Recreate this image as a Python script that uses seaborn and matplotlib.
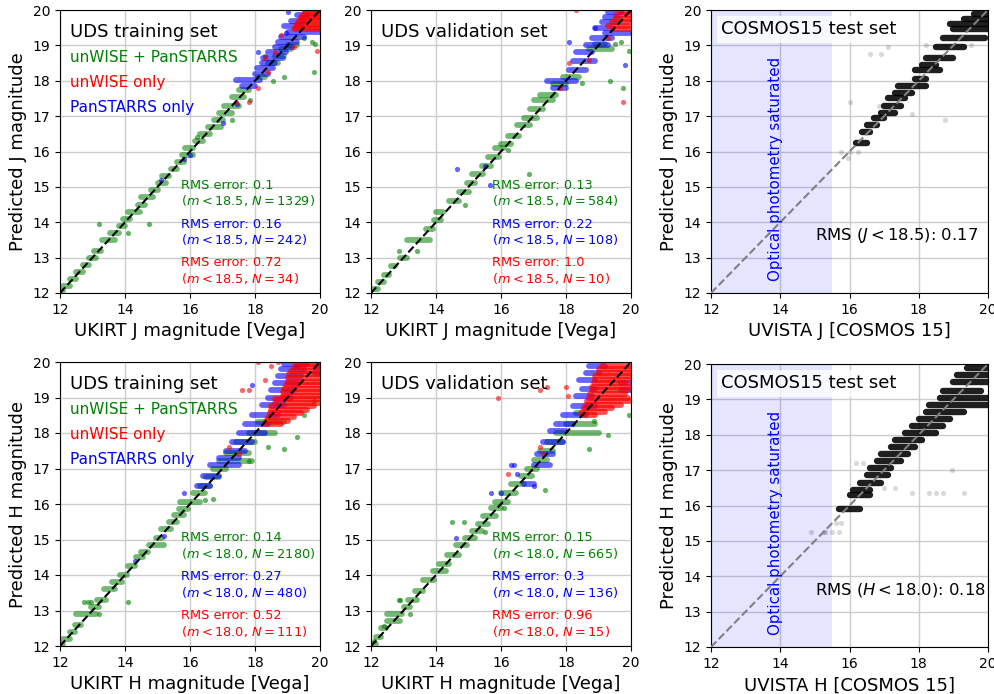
import matplotlib
matplotlib.use("Agg")
import matplotlib.pyplot as plt
import seaborn as sns
import pandas as pd

# ---------------- data ----------------
# streaks: (predicted level, true x start, true x end); points: (true, predicted)
jt_green_streaks = [(12.05, 12.0, 12.1), (12.2, 12.1, 12.3), (12.4, 12.3, 12.5), (12.6, 12.5, 12.7),
                    (12.8, 12.7, 12.9), (13.0, 12.9, 13.1), (13.2, 13.05, 13.25), (13.5, 13.3, 13.7),
                    (13.7, 13.55, 13.8), (13.9, 13.8, 14.0), (14.1, 13.95, 14.15), (14.3, 14.1, 14.45),
                    (14.5, 14.4, 14.6), (14.7, 14.5, 14.85), (14.9, 14.8, 15.0), (15.1, 15.0, 15.25),
                    (15.3, 15.15, 15.35), (15.5, 15.4, 15.6), (15.7, 15.6, 15.8), (15.9, 15.75, 16.1),
                    (16.1, 15.85, 16.1), (16.3, 16.15, 16.4), (16.5, 16.3, 16.6), (16.7, 16.55, 16.95),
                    (16.9, 16.75, 17.0), (17.1, 16.9, 17.3), (17.3, 17.05, 17.5), (17.55, 17.3, 17.65),
                    (17.75, 17.5, 17.8), (18.1, 18.1, 18.3), (18.5, 18.4, 18.7), (18.7, 18.6, 18.9),
                    (18.9, 18.8, 19.1), (19.0, 19.0, 19.3)]
jt_green_pts = [(13.2, 13.95), (14.1, 13.7), (14.75, 13.95), (18.55, 18.0), (18.9, 18.1), (19.8, 18.25),
                (19.75, 19.1), (19.85, 19.05), (17.3, 16.9), (16.2, 16.4), (19.5, 19.2), (17.85, 17.45),
                (18.3, 18.7)]
jt_blue_streaks = [(17.85, 17.6, 18.0), (18.02, 17.4, 18.15), (18.2, 18.0, 18.4), (18.35, 18.05, 18.55),
                   (18.5, 18.2, 18.6), (18.65, 18.25, 18.85), (18.8, 18.4, 18.95), (18.95, 18.6, 19.15),
                   (19.1, 18.7, 19.3), (19.25, 18.8, 19.5), (19.38, 19.0, 20.0), (19.55, 18.9, 19.4),
                   (19.7, 19.1, 19.5), (19.85, 19.3, 19.6)]
jt_blue_pts = [(15.1, 15.2), (16.0, 15.9), (15.8, 15.8), (17.45, 17.35), (17.0, 16.8), (19.0, 19.95),
               (18.1, 18.8), (18.95, 19.35)]
jt_red_streaks = [(19.45, 19.2, 20.0), (19.52, 19.25, 20.0), (19.6, 19.3, 20.0), (19.68, 19.35, 20.0),
                  (19.76, 19.4, 20.0), (19.84, 19.45, 20.0), (19.92, 19.55, 20.0), (19.98, 19.65, 20.0)]
jt_red_pts = [(17.4, 17.4), (17.8, 17.4), (18.8, 19.3), (19.9, 18.85), (18.6, 18.8), (18.3, 18.65),
              (19.95, 20.0), (19.5, 20.0), (18.1, 17.8), (18.4, 18.25), (19.2, 18.95)]

jv_green_streaks = [(12.1, 12.05, 12.2), (12.3, 12.2, 12.4), (12.5, 12.4, 12.55), (12.75, 12.6, 12.75),
                    (13.0, 12.9, 13.1), (13.5, 13.1, 13.8), (13.8, 13.7, 13.9), (14.05, 13.95, 14.15),
                    (14.3, 14.0, 14.2), (14.6, 14.4, 14.7), (14.85, 14.7, 15.0), (15.1, 14.95, 15.2),
                    (15.35, 15.1, 15.45), (15.6, 15.4, 15.7), (15.85, 15.6, 15.95), (16.1, 15.8, 16.1),
                    (16.2, 16.0, 16.3), (16.45, 16.2, 16.55), (16.75, 16.5, 16.9), (16.95, 16.7, 17.1),
                    (17.2, 16.9, 17.3), (17.45, 17.0, 17.6), (17.6, 17.2, 17.7), (17.9, 17.6, 18.0),
                    (18.1, 17.9, 18.4), (18.9, 18.7, 19.4), (19.05, 18.9, 19.2)]
jv_green_pts = [(12.85, 13.2), (13.4, 13.2), (16.85, 15.35), (19.35, 18.0), (19.75, 17.8), (19.95, 18.85),
                (19.5, 19.05), (19.7, 19.1), (18.5, 17.95), (16.2, 16.05), (14.9, 14.5)]
jv_blue_streaks = [(17.8, 17.6, 18.0), (18.0, 17.4, 18.3), (18.3, 18.1, 18.6), (18.55, 18.2, 18.9),
                   (18.8, 18.3, 18.8), (19.0, 18.6, 19.3), (19.2, 18.8, 19.4), (19.35, 19.2, 20.0),
                   (19.5, 18.9, 19.4), (19.65, 19.1, 19.5), (19.8, 19.2, 19.6), (19.95, 19.3, 19.7)]
jv_blue_pts = [(14.65, 15.5), (15.65, 15.05), (15.5, 15.6), (19.8, 18.45), (18.9, 19.5), (18.1, 19.1)]
jv_red_streaks = [(19.45, 19.45, 20.0), (19.55, 19.3, 19.9), (19.65, 19.4, 20.0), (19.75, 19.5, 20.0),
                  (19.85, 19.55, 20.0), (19.95, 19.7, 20.0)]
jv_red_pts = [(19.75, 17.4), (18.3, 20.0), (18.7, 18.6), (17.8, 17.8), (19.3, 19.2), (18.1, 18.5)]

ht_green_streaks = [(12.05, 12.0, 12.1), (12.2, 12.1, 12.3), (12.4, 12.3, 12.45), (12.6, 12.45, 12.65),
                    (12.9, 12.5, 13.1), (13.1, 12.95, 13.2), (13.3, 13.15, 13.4), (13.6, 13.35, 13.7),
                    (13.8, 13.6, 13.9), (14.0, 13.85, 14.05), (14.25, 14.1, 14.3), (14.5, 14.35, 14.55),
                    (14.65, 14.5, 14.7), (14.85, 14.75, 15.2), (15.05, 14.95, 15.15), (15.3, 15.1, 15.4),
                    (15.5, 15.35, 15.6), (15.7, 15.5, 15.8), (15.85, 15.65, 15.95), (16.05, 15.7, 16.3),
                    (16.3, 16.1, 16.45), (16.5, 16.3, 16.6), (16.75, 16.5, 16.9), (17.0, 16.7, 17.1),
                    (17.2, 16.9, 17.9), (17.45, 17.1, 17.8), (17.75, 17.4, 18.0), (18.0, 17.8, 18.6),
                    (18.3, 18.1, 18.9)]
ht_green_pts = [(12.75, 13.25), (12.85, 13.25), (12.95, 13.25), (14.1, 13.25), (13.2, 12.9), (16.7, 16.15),
                (16.45, 16.1), (18.9, 17.55), (19.3, 17.9), (18.4, 17.6), (17.8, 17.2), (19.5, 18.5),
                (19.8, 18.9)]
ht_blue_streaks = [(16.5, 16.2, 16.6), (16.8, 16.4, 16.9), (17.1, 16.6, 17.5), (17.3, 16.9, 17.5),
                   (17.5, 17.1, 17.7), (17.75, 17.3, 17.9), (18.0, 17.5, 18.3), (18.25, 17.7, 18.4),
                   (18.5, 17.9, 18.7), (18.8, 18.2, 18.9), (19.0, 18.4, 19.1), (19.2, 18.5, 19.2),
                   (19.4, 18.6, 19.3), (19.6, 18.7, 19.4), (19.8, 18.8, 19.5), (19.95, 18.9, 19.6),
                   (19.7, 19.85, 20.0), (19.9, 19.9, 20.0)]
ht_blue_pts = [(15.8, 16.3), (15.2, 15.1), (14.3, 14.4), (19.3, 19.9), (17.9, 19.35)]
ht_red_streaks = [(18.25, 18.3, 18.8), (18.35, 18.35, 19.0), (18.45, 18.4, 19.2), (18.55, 18.45, 19.4),
                  (18.65, 18.5, 19.6), (18.75, 18.5, 19.8), (18.85, 18.6, 20.0), (18.95, 18.6, 20.0),
                  (19.05, 18.85, 20.0), (19.15, 18.85, 20.0), (19.25, 18.9, 20.0), (19.35, 18.95, 20.0),
                  (19.45, 19.0, 20.0), (19.55, 19.0, 20.0), (19.65, 19.05, 20.0), (19.75, 19.1, 20.0),
                  (19.85, 19.2, 20.0), (19.95, 19.3, 20.0)]
ht_red_pts = [(17.6, 19.2), (17.8, 19.2), (18.3, 19.5), (18.1, 20.0), (18.5, 19.9), (18.7, 20.0),
              (17.2, 17.6), (17.5, 17.4)]

hv_green_streaks = [(12.05, 12.0, 12.15), (12.25, 12.15, 12.3), (12.5, 12.3, 12.45), (12.7, 12.5, 12.9),
                    (12.9, 12.5, 12.95), (13.1, 13.0, 13.2), (13.3, 13.15, 13.4), (13.55, 13.35, 13.6),
                    (13.85, 13.6, 13.95), (14.1, 13.9, 14.3), (14.3, 14.1, 14.4), (14.55, 14.35, 14.7),
                    (14.85, 14.6, 14.95), (15.05, 14.9, 15.2), (15.25, 15.1, 15.4), (15.45, 15.3, 15.6),
                    (15.65, 15.45, 15.85), (15.9, 15.7, 16.0), (16.05, 15.8, 16.2), (16.3, 16.0, 16.45),
                    (16.55, 16.3, 16.7), (16.8, 16.6, 16.95), (17.0, 16.8, 17.1), (17.25, 17.0, 17.4),
                    (17.5, 17.2, 17.6), (17.75, 17.4, 17.9), (18.0, 17.7, 19.0), (18.25, 18.0, 18.9),
                    (18.55, 18.3, 18.6)]
hv_green_pts = [(12.85, 13.3), (12.9, 13.3), (13.2, 12.9), (12.4, 12.55), (14.5, 15.5), (14.85, 15.5),
                (17.35, 16.4), (18.7, 17.55), (19.3, 17.95), (19.95, 18.5), (18.85, 18.35), (12.1, 12.15),
                (15.5, 15.2), (16.1, 15.9)]
hv_blue_streaks = [(16.55, 16.7, 17.0), (17.1, 17.0, 17.5), (17.4, 17.1, 17.6), (17.75, 17.3, 17.9),
                   (18.05, 17.5, 18.0), (18.25, 17.7, 18.2), (18.5, 17.9, 18.6), (18.75, 18.2, 18.9),
                   (19.05, 18.3, 18.8), (19.25, 18.5, 18.9), (19.5, 18.4, 18.9), (19.7, 18.6, 19.0),
                   (19.9, 18.7, 19.2), (19.2, 19.7, 20.0), (19.4, 19.7, 20.0)]
hv_blue_pts = [(14.6, 15.05), (15.7, 16.3), (16.0, 16.3), (16.3, 17.1), (16.4, 17.1), (16.5, 16.85),
               (17.0, 16.5)]
hv_red_streaks = [(18.5, 18.45, 18.9), (18.6, 18.5, 19.2), (18.7, 18.55, 19.4), (18.8, 18.6, 19.7),
                  (18.9, 18.65, 20.0), (19.0, 18.7, 19.9), (19.1, 18.75, 19.8), (19.2, 18.8, 19.9),
                  (19.3, 18.8, 20.0), (19.4, 18.85, 19.8), (19.5, 18.9, 20.0), (19.6, 18.9, 20.0),
                  (19.7, 19.0, 20.0), (19.8, 19.0, 20.0), (19.9, 19.1, 20.0)]
hv_red_pts = [(15.9, 19.0), (17.2, 19.2), (17.4, 19.3), (16.2, 16.85), (18.0, 19.3), (18.05, 19.05),
              (17.2, 17.6), (17.3, 17.4)]

cj_streaks = [(16.25, 16.2, 16.5), (16.55, 16.35, 16.6), (16.75, 16.5, 16.8), (16.95, 16.7, 17.0),
              (17.1, 16.9, 17.3), (17.3, 17.0, 17.5), (17.5, 17.1, 17.6), (17.65, 17.3, 17.8),
              (17.85, 17.4, 18.2), (18.05, 17.9, 18.2), (18.3, 17.9, 18.6), (18.45, 18.1, 18.5),
              (18.65, 18.2, 19.0), (18.95, 18.5, 19.3), (19.2, 18.7, 19.9), (19.45, 19.0, 20.0),
              (19.6, 18.9, 20.0), (19.75, 19.3, 20.0), (19.9, 19.6, 20.0)]
cj_pts = [(15.75, 16.0), (16.0, 16.0), (16.25, 16.0), (15.95, 15.82), (16.6, 18.75), (16.9, 18.75),
          (17.1, 18.95), (16.0, 17.4), (18.75, 16.9), (17.8, 17.05), (16.85, 17.3), (18.2, 19.0),
          (19.5, 19.0)]
ch_streaks = [(15.9, 15.7, 16.3), (16.3, 16.0, 16.6), (16.45, 16.1, 16.6), (16.65, 16.3, 16.9),
              (16.85, 16.5, 17.1), (17.05, 16.6, 17.2), (17.25, 16.8, 17.5), (17.45, 16.9, 17.7),
              (17.65, 17.2, 17.9), (17.85, 17.3, 18.1), (18.05, 17.6, 18.5), (18.25, 17.8, 18.7),
              (18.45, 18.0, 18.9), (18.65, 18.2, 19.3), (18.85, 18.3, 20.0), (19.05, 18.6, 20.0),
              (19.25, 18.7, 19.8), (19.5, 19.0, 20.0), (19.7, 19.1, 20.0), (19.9, 19.4, 20.0)]
ch_pts = [(16.2, 17.2), (16.4, 17.2), (17.8, 16.35), (18.3, 16.35), (18.5, 16.35), (18.7, 16.35),
          (19.3, 16.35), (18.95, 17.0), (17.0, 16.5), (17.3, 16.5), (15.25, 15.25), (15.5, 15.25),
          (14.9, 15.25), (15.3, 15.25), (15.7, 15.25), (15.6, 15.5), (15.75, 15.5)]

rms_train_j = ["0.1", "0.16", "0.72"]
n_train_j = [1329, 242, 34]
rms_val_j = ["0.13", "0.22", "1.0"]
n_val_j = [584, 108, 10]
rms_train_h = ["0.14", "0.27", "0.52"]
n_train_h = [2180, 480, 111]
rms_val_h = ["0.15", "0.3", "0.96"]
n_val_h = [665, 136, 15]
legend_labels = ["unWISE + PanSTARRS", "unWISE only", "PanSTARRS only"]
legend_colors = ["green", "red", "blue"]

# ---------------- figure ----------------
plt.rcParams['font.family'] = ['DejaVu Sans']
fig = plt.figure(figsize=(9.94, 6.94), dpi=100)

W, H = 994.0, 694.0
def pos(l, r, t, b):
    return [l / W, 1 - b / H, (r - l) / W, (b - t) / H]

ax_jt = fig.add_axes(pos(60, 320, 10, 293))
ax_jv = fig.add_axes(pos(371, 631, 10, 293))
ax_cj = fig.add_axes(pos(711, 988, 10, 293))
ax_ht = fig.add_axes(pos(60, 320, 362, 646))
ax_hv = fig.add_axes(pos(371, 631, 362, 646))
ax_ch = fig.add_axes(pos(711, 988, 364, 647))

PT_S = 14
LW = 4.2

def draw_streaks(ax, streaks, color, alpha, lw=LW):
    if not streaks:
        return
    df = pd.DataFrame(streaks, columns=["y", "x0", "x1"])
    ax.hlines(df["y"], df["x0"], df["x1"], colors=color, linewidth=lw, alpha=alpha,
              capstyle="round", zorder=2)

def draw_pts(ax, pts, color, alpha):
    df = pd.DataFrame(pts, columns=["x", "y"])
    sns.scatterplot(data=df, x="x", y="y", ax=ax, color=color, s=PT_S, alpha=alpha,
                    linewidth=0, zorder=2)

def base(ax):
    ax.set_xlim(12, 20)
    ax.set_ylim(12, 20)
    ax.set_xticks([12, 14, 16, 18, 20])
    ax.set_yticks(range(12, 21))
    ax.grid(True, color="0.8", lw=1, zorder=0)
    ax.set_axisbelow(True)
    ax.tick_params(labelsize=10)

def labels(ax, xlabel, ylabel):
    ax.set_xlabel(xlabel if xlabel else "", fontsize=13)
    ax.set_ylabel(ylabel if ylabel else "", fontsize=13)

def uds_panel(ax, data, title, rms, ns, cut, show_legend, xlabel, ylabel):
    base(ax)
    (gs, gp), (bs, bp), (rs, rp) = data
    draw_streaks(ax, gs, "green", 0.55)
    draw_pts(ax, gp, "green", 0.6)
    draw_streaks(ax, bs, "blue", 0.6)
    draw_pts(ax, bp, "blue", 0.6)
    draw_streaks(ax, rs, "red", 0.7)
    draw_pts(ax, rp, "red", 0.6)
    ax.plot([12, 20], [12, 20], color="black", ls="--", lw=1.5, zorder=3)
    ax.text(12.3, 19.37, title, fontsize=13, va="center", ha="left")
    if show_legend:
        for i, (lab, col) in enumerate(zip(legend_labels, legend_colors)):
            ax.text(12.3, 18.67 - 0.71 * i, lab, color=col, fontsize=11, va="center", ha="left")
    ys = [15.05, 13.95, 12.85]
    for i, col in enumerate(["green", "blue", "red"]):
        ax.text(15.72, ys[i], "RMS error: %s" % rms[i], color=col, fontsize=9.3, va="center", ha="left")
        ax.text(15.72, ys[i] - 0.44, r"($m < %s$, $N = %d$)" % (cut, ns[i]), color=col,
                fontsize=9.3, va="center", ha="left")
    labels(ax, xlabel, ylabel)

def cosmos_panel(ax, streaks, pts, rms_txt, xlabel, ylabel):
    base(ax)
    ax.axvspan(12, 15.5, color="blue", alpha=0.1, lw=0, zorder=1)
    draw_streaks(ax, streaks, "black", 0.88, lw=4.6)
    draw_pts(ax, pts, "black", 0.15)
    ax.plot([12, 20], [12, 20], color="gray", ls="--", lw=1.5, zorder=3)
    ax.text(12.3, 19.45, "COSMOS15 test set", fontsize=13, va="center", ha="left",
            bbox=dict(facecolor="white", edgecolor="none", alpha=0.75, pad=3), zorder=4)
    ax.text(13.85, 15.5, "Optical photometry saturated", color="blue", fontsize=10.8,
            rotation=90, va="center", ha="center", zorder=4)
    ax.text(15.0, 13.62, rms_txt, fontsize=11.8, va="center", ha="left", zorder=4)
    labels(ax, xlabel, ylabel)

uds_panel(ax_jt, [(jt_green_streaks, jt_green_pts), (jt_blue_streaks, jt_blue_pts), (jt_red_streaks, jt_red_pts)],
          "UDS training set", rms_train_j, n_train_j, "18.5", True,
          "UKIRT J magnitude [Vega]", "Predicted J magnitude")
uds_panel(ax_jv, [(jv_green_streaks, jv_green_pts), (jv_blue_streaks, jv_blue_pts), (jv_red_streaks, jv_red_pts)],
          "UDS validation set", rms_val_j, n_val_j, "18.5", False,
          "UKIRT J magnitude [Vega]", None)
uds_panel(ax_ht, [(ht_green_streaks, ht_green_pts), (ht_blue_streaks, ht_blue_pts), (ht_red_streaks, ht_red_pts)],
          "UDS training set", rms_train_h, n_train_h, "18.0", True,
          "UKIRT H magnitude [Vega]", "Predicted H magnitude")
uds_panel(ax_hv, [(hv_green_streaks, hv_green_pts), (hv_blue_streaks, hv_blue_pts), (hv_red_streaks, hv_red_pts)],
          "UDS validation set", rms_val_h, n_val_h, "18.0", False,
          "UKIRT H magnitude [Vega]", None)
cosmos_panel(ax_cj, cj_streaks, cj_pts, r"RMS ($J < 18.5$): 0.17", "UVISTA J [COSMOS 15]", "Predicted J magnitude")
cosmos_panel(ax_ch, ch_streaks, ch_pts, r"RMS ($H < 18.0$): 0.18", "UVISTA H [COSMOS 15]", "Predicted H magnitude")

fig.savefig("out.png", dpi=100)
